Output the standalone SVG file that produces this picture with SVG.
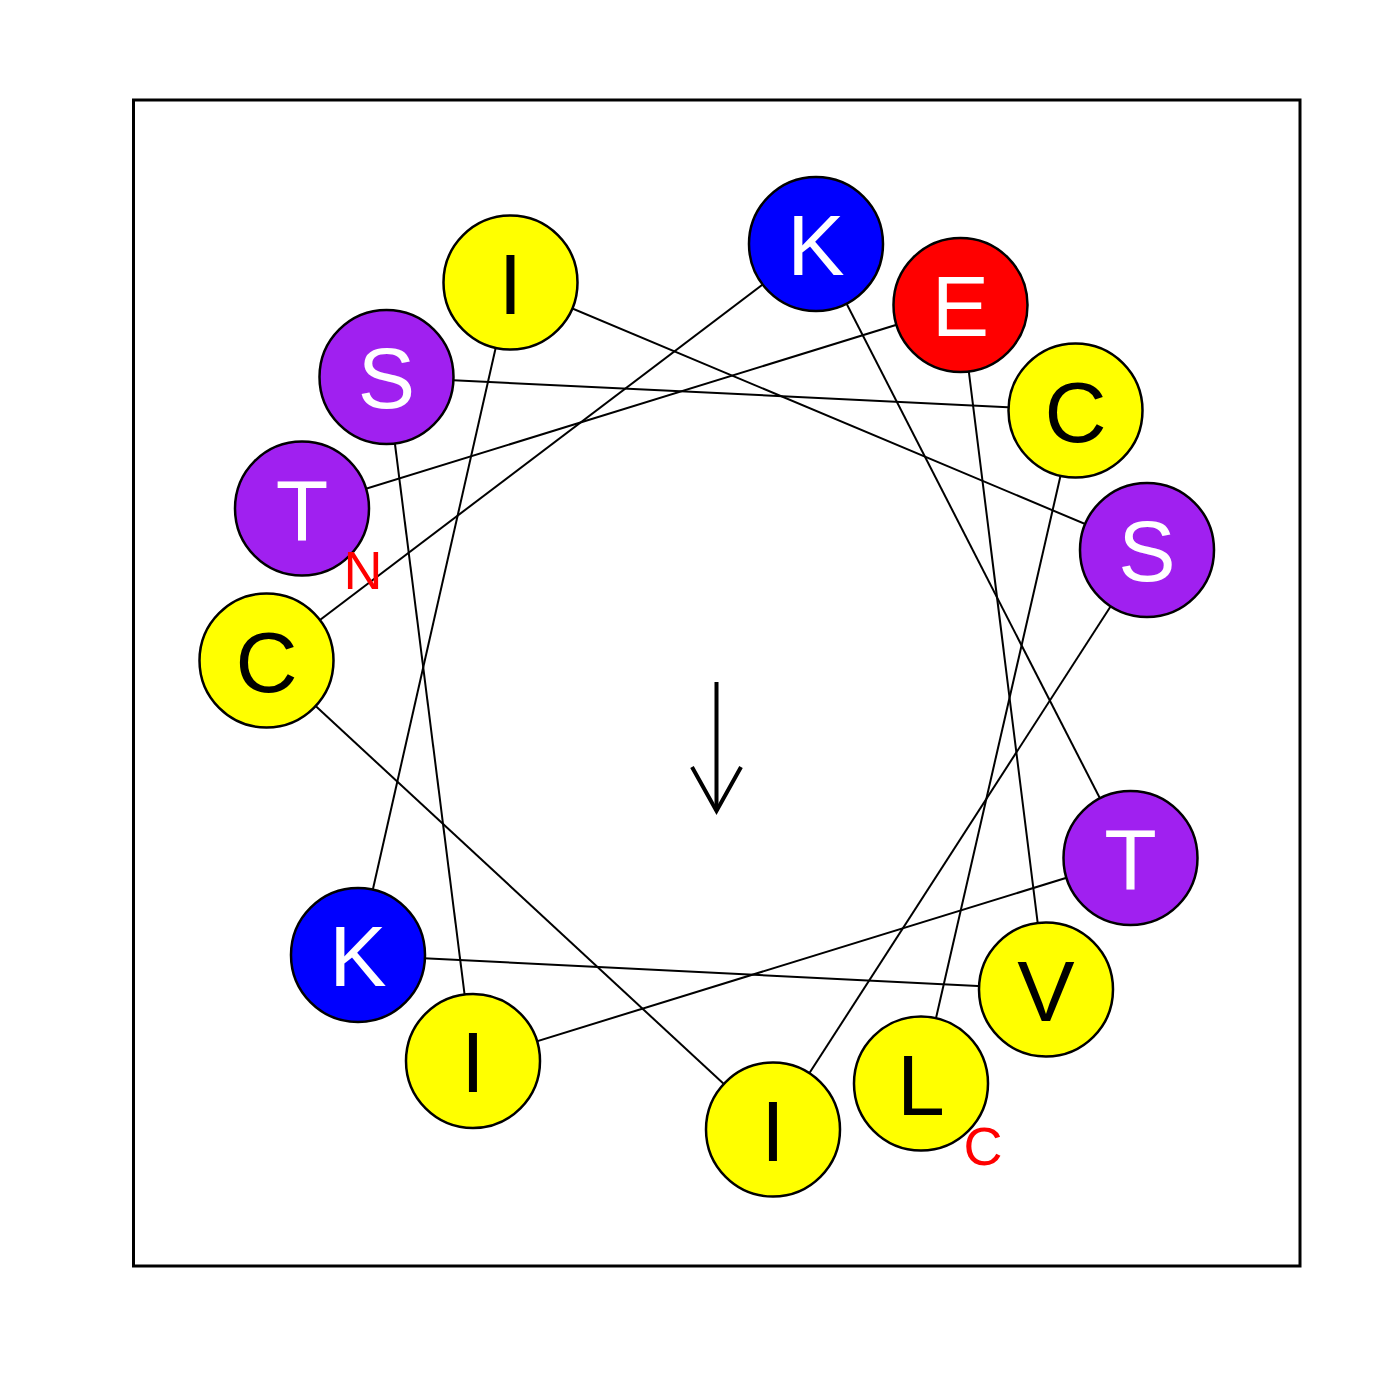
<svg xmlns="http://www.w3.org/2000/svg" width="1400" height="1400" viewBox="0 0 1400 1400">
<style>
.bg{fill:#ffffff}
.frame{fill:none;stroke:#000;stroke-width:3}
.conn line{stroke:#000;stroke-width:2}
.res circle{stroke:#000;stroke-width:2.5}
.res text{font-family:"Liberation Sans",Arial,sans-serif;font-size:86px;text-anchor:middle}
.hyd{fill:#ffff00}
.pol{fill:#a020f0}
.pos{fill:#0000ff}
.neg{fill:#ff0000}
.dk{fill:#000}
.lt{fill:#fff}
.term{font-family:"Liberation Sans",Arial,sans-serif;font-size:54px;fill:#ff0000;text-anchor:middle}
.arrow{fill:none;stroke:#000;stroke-width:4}
</style>
<rect class="bg" x="0" y="0" width="1400" height="1400"/>
<rect class="frame" x="133.5" y="100" width="1166.5" height="1166"/>
<g id="connectors" class="conn">
<line x1="302" y1="508.5" x2="960.5" y2="305"/>
<line x1="960.5" y1="305" x2="1046" y2="989.5"/>
<line x1="1046" y1="989.5" x2="358" y2="955"/>
<line x1="358" y1="955" x2="510.5" y2="282.5"/>
<line x1="510.5" y1="282.5" x2="1147" y2="550"/>
<line x1="1147" y1="550" x2="773" y2="1129.5"/>
<line x1="773" y1="1129.5" x2="266.5" y2="660.5"/>
<line x1="266.5" y1="660.5" x2="816" y2="244"/>
<line x1="816" y1="244" x2="1130.5" y2="858"/>
<line x1="1130.5" y1="858" x2="473" y2="1061"/>
<line x1="473" y1="1061" x2="386.5" y2="377"/>
<line x1="386.5" y1="377" x2="1075.5" y2="410.5"/>
<line x1="1075.5" y1="410.5" x2="921" y2="1083.5"/>
</g>
<g id="r1" class="res"><circle class="pol" cx="302" cy="508.5" r="67"/><text class="lt" x="302" y="539.5">T</text></g>
<g id="r2" class="res"><circle class="neg" cx="960.5" cy="305" r="67"/><text class="lt" x="960.5" y="336">E</text></g>
<g id="r3" class="res"><circle class="hyd" cx="1046" cy="989.5" r="67"/><text class="dk" x="1046" y="1020.5">V</text></g>
<g id="r4" class="res"><circle class="pos" cx="358" cy="955" r="67"/><text class="lt" x="358" y="986">K</text></g>
<g id="r5" class="res"><circle class="hyd" cx="510.5" cy="282.5" r="67"/><text class="dk" x="510.5" y="313.5">I</text></g>
<g id="r6" class="res"><circle class="pol" cx="1147" cy="550" r="67"/><text class="lt" x="1147" y="581">S</text></g>
<g id="r7" class="res"><circle class="hyd" cx="773" cy="1129.5" r="67"/><text class="dk" x="773" y="1160.5">I</text></g>
<g id="r8" class="res"><circle class="hyd" cx="266.5" cy="660.5" r="67"/><text class="dk" x="266.5" y="691.5">C</text></g>
<g id="r9" class="res"><circle class="pos" cx="816" cy="244" r="67"/><text class="lt" x="816" y="275">K</text></g>
<g id="r10" class="res"><circle class="pol" cx="1130.5" cy="858" r="67"/><text class="lt" x="1130.5" y="889">T</text></g>
<g id="r11" class="res"><circle class="hyd" cx="473" cy="1061" r="67"/><text class="dk" x="473" y="1092">I</text></g>
<g id="r12" class="res"><circle class="pol" cx="386.5" cy="377" r="67"/><text class="lt" x="386.5" y="408">S</text></g>
<g id="r13" class="res"><circle class="hyd" cx="1075.5" cy="410.5" r="67"/><text class="dk" x="1075.5" y="441.5">C</text></g>
<g id="r14" class="res"><circle class="hyd" cx="921" cy="1083.5" r="67"/><text class="dk" x="921" y="1114.5">L</text></g>
<text class="term" x="363" y="589">N</text>
<text class="term" x="983" y="1165">C</text>
<g id="moment">
<line class="arrow" x1="716.5" y1="682" x2="716.5" y2="811"/>
<polyline class="arrow" points="692,767 716.5,811 741,767"/>
</g>
</svg>
